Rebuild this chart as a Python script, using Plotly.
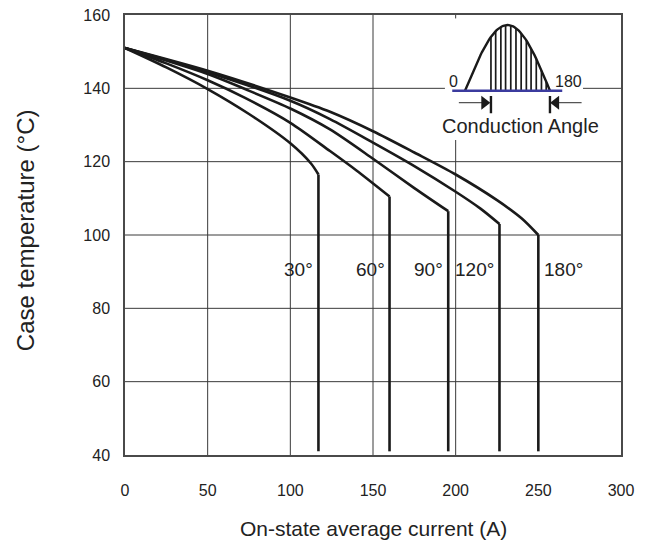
import numpy as np
import plotly.graph_objects as go

# ---- data ----
angles = ["30°", "60°", "90°", "120°", "180°"]

I_30 = [0, 25, 50, 75, 100, 112.5, 117, 117]
T_30 = [151, 145.7, 139.8, 133, 125, 119.5, 116.5, 41]

I_60 = [0, 25, 50, 72.6, 100, 124, 140, 160, 160]
T_60 = [151, 146.8, 142.2, 137.4, 130.6, 122.9, 117.6, 110.5, 41]

I_90 = [0, 50, 72.6, 100, 124, 150, 175, 195.5, 195.5]
T_90 = [151, 143.9, 139.8, 134.5, 128.8, 120.8, 112.8, 106.5, 41]

I_120 = [0, 50, 100, 124, 150, 175, 200, 215, 226.5, 226.5]
T_120 = [151, 144.4, 136.6, 131.6, 125.2, 118.8, 111.8, 107.2, 103, 41]

I_180 = [0, 50, 100, 124, 150, 175, 200, 225, 240, 250, 250]
T_180 = [151, 144.8, 137.5, 133.6, 128.3, 122.5, 116.5, 109.5, 104.5, 100, 41]

x_ticks = [0, 50, 100, 150, 200, 250, 300]
y_ticks = [40, 60, 80, 100, 120, 140, 160]
x_grid = [50, 100, 150, 200]
y_grid = [60, 80, 100, 120, 140]

label_y = 90.7
# (text, x of its line, anchor side)
labels = [("30°", 117, "right"), ("60°", 160, "right"), ("90°", 195.5, "right"),
          ("120°", 226.5, "right"), ("180°", 250, "left")]

# inset schematic (conduction angle diagram), in degrees
hatch_deg = [55, 65, 76, 86, 97, 108, 119, 130, 140, 151, 162, 172]
fire_deg = 55

FONT = "Liberation Sans, Arial, sans-serif"
INK = "#1a1a1a"
GRID = "#3a3a3a"
TXT = "#222222"

fig = go.Figure()

series = [(I_30, T_30), (I_60, T_60), (I_90, T_90), (I_120, T_120), (I_180, T_180)]
for name, (xs, ys) in zip(angles, series):
    # curved derating part
    fig.add_trace(go.Scatter(x=xs[:-1], y=ys[:-1], mode="lines", name=name,
                             line=dict(color=INK, width=2.6, shape="spline", smoothing=0.8),
                             showlegend=False, hoverinfo="skip"))
    # vertical current limit
    fig.add_trace(go.Scatter(x=xs[-2:], y=ys[-2:], mode="lines", name=name,
                             line=dict(color=INK, width=2.6),
                             showlegend=False, hoverinfo="skip"))

# ---- inset traces on x2/y2 ----
deg = np.linspace(0, 180, 61)
fig.add_trace(go.Scatter(x=deg, y=np.sin(np.radians(deg)), xaxis="x2", yaxis="y2",
                         mode="lines", line=dict(color=INK, width=2.4),
                         showlegend=False, hoverinfo="skip"))
hx, hy = [], []
for d in hatch_deg:
    hx += [d, d, None]
    hy += [0, float(np.sin(np.radians(d))), None]
fig.add_trace(go.Scatter(x=hx, y=hy, xaxis="x2", yaxis="y2", mode="lines",
                         line=dict(color=INK, width=1.7), showlegend=False,
                         hoverinfo="skip"))
# blue baseline
fig.add_trace(go.Scatter(x=[-27, 206], y=[0, 0], xaxis="x2", yaxis="y2", mode="lines",
                         line=dict(color="#3b3b9e", width=2.6), showlegend=False,
                         hoverinfo="skip"))
# arrow shafts
fig.add_trace(go.Scatter(x=[-13, 50, None, 184, 247], y=[-0.183, -0.183, None, -0.183, -0.183],
                         xaxis="x2", yaxis="y2", mode="lines",
                         line=dict(color="#555555", width=1.2), showlegend=False,
                         hoverinfo="skip"))
# bars
fig.add_trace(go.Scatter(x=[fire_deg, fire_deg, None, 180, 180],
                         y=[-0.08, -0.345, None, -0.08, -0.345],
                         xaxis="x2", yaxis="y2", mode="lines",
                         line=dict(color=INK, width=2.4), showlegend=False,
                         hoverinfo="skip"))
# arrow heads
fig.add_trace(go.Scatter(x=[41], y=[-0.183], xaxis="x2", yaxis="y2", mode="markers",
                         marker=dict(symbol="triangle-right", size=12, color=INK),
                         showlegend=False, hoverinfo="skip"))
fig.add_trace(go.Scatter(x=[193], y=[-0.183], xaxis="x2", yaxis="y2", mode="markers",
                         marker=dict(symbol="triangle-left", size=12, color=INK),
                         showlegend=False, hoverinfo="skip"))

shapes = []
for gx in x_grid:
    shapes.append(dict(type="line", xref="x", yref="paper", x0=gx, x1=gx, y0=0, y1=1,
                       line=dict(color=GRID, width=1), layer="below"))
for gy in y_grid:
    shapes.append(dict(type="line", xref="paper", yref="y", x0=0, x1=1, y0=gy, y1=gy,
                       line=dict(color=GRID, width=1), layer="below"))
# white patch behind inset
shapes.append(dict(type="rect", xref="paper", yref="paper", x0=0.645, x1=0.9234,
                   y0=0.716, y1=0.982, fillcolor="white", line=dict(width=0),
                   layer="between"))

annotations = []
for text, lx, side in labels:
    annotations.append(dict(x=lx, y=label_y, xref="x", yref="y", text=text,
                            showarrow=False, xanchor=side, yanchor="middle",
                            xshift=-3 if side == "right" else 4,
                            font=dict(family=FONT, size=19, color=TXT)))
annotations += [
    dict(x=-25, y=0.14, xref="x2", yref="y2", text="0", showarrow=False,
         xanchor="center", yanchor="middle",
         font=dict(family=FONT, size=16, color=TXT)),
    dict(x=219, y=0.14, xref="x2", yref="y2", text="180", showarrow=False,
         xanchor="center", yanchor="middle",
         font=dict(family=FONT, size=16, color=TXT)),
    dict(x=0.7964, y=0.7477, xref="paper", yref="paper", text="Conduction Angle",
         showarrow=False, xanchor="center", yanchor="middle",
         font=dict(family=FONT, size=20, color=TXT)),
    dict(x=0.5, y=-0.166, xref="paper", yref="paper", text="On-state average current (A)",
         showarrow=False, xanchor="center", yanchor="middle",
         font=dict(family=FONT, size=21, color=TXT)),
    dict(x=-0.2016, y=0.511, xref="paper", yref="paper", text="Case temperature (°C)",
         showarrow=False, textangle=-90, xanchor="center", yanchor="middle",
         font=dict(family=FONT, size=24, color=TXT)),
]

fig.update_layout(
    width=651, height=542,
    margin=dict(l=117, r=38, t=7, b=95, autoexpand=False),
    paper_bgcolor="white", plot_bgcolor="white",
    font=dict(family=FONT, color=TXT),
    xaxis=dict(range=[0, 300], tickvals=x_ticks, showgrid=False, zeroline=False,
               showline=True, mirror=True, linecolor="#4a4a4a", linewidth=1.5,
               ticks="", tickfont=dict(size=16, family=FONT, color=TXT),
               ticklabelstandoff=20, ticklabeloverflow="allow", fixedrange=True),
    yaxis=dict(range=[40, 160], tickvals=y_ticks, showgrid=False, zeroline=False,
               showline=True, mirror=True, linecolor="#4a4a4a", linewidth=1.5,
               ticks="", tickfont=dict(size=16, family=FONT, color=TXT),
               ticklabelstandoff=10, ticklabeloverflow="allow", fixedrange=True),
    xaxis2=dict(domain=[0.6569, 0.9234], range=[-30, 250], anchor="y2", visible=False),
    yaxis2=dict(domain=[0.7533, 0.9922], range=[-0.5, 1.1], anchor="x2", visible=False),
    shapes=shapes, annotations=annotations, showlegend=False,
)

fig.write_html("out.html")
